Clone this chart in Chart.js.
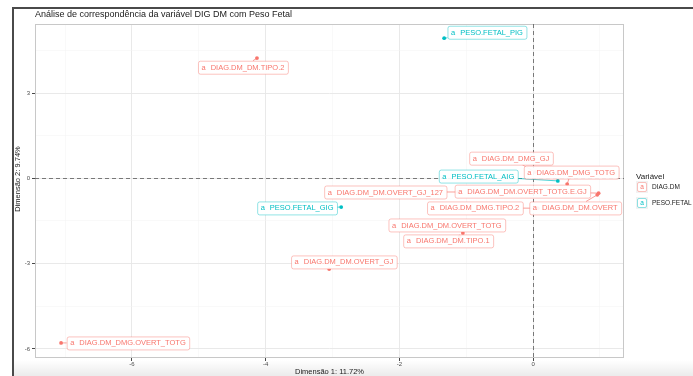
<!DOCTYPE html>
<html>
<head>
<meta charset="utf-8">
<script src="https://cdn.jsdelivr.net/npm/chart.js@4.4.1/dist/chart.umd.min.js"></script>
<style>
  html, body { margin: 0; padding: 0; background: #fff; }
  #wrap { width: 693px; height: 376px; }
</style>
</head>
<body>
<div id="wrap"><canvas id="mca" width="693" height="376"></canvas></div>
<script>
// categories of DIAG.DM and their coordinates on dimensions 1 and 2
const diagLabels = [
  'DIAG.DM_DM.TIPO.2', 'DIAG.DM_DMG_GJ', 'DIAG.DM_DMG_TOTG',
  'DIAG.DM_DM.OVERT_GJ_127', 'DIAG.DM_DM.OVERT_TOTG.E.GJ', 'DIAG.DM_DMG.TIPO.2',
  'DIAG.DM_DM.OVERT', 'DIAG.DM_DM.OVERT_TOTG', 'DIAG.DM_DM.TIPO.1',
  'DIAG.DM_DM.OVERT_GJ', 'DIAG.DM_DMG.OVERT_TOTG'
];
const diagDim1 = [-4.13, 0.03, 0.51, -1.12, 0.98, 0.07, 0.96, -1.05, -1.10, -3.05, -7.06];
const diagDim2 = [4.23, 0.22, -0.20, -0.48, -0.52, -1.05, -0.58, -1.92, -2.05, -3.19, -5.79];

// categories of PESO.FETAL
const pesoLabels = ['PESO.FETAL_PIG', 'PESO.FETAL_AIG', 'PESO.FETAL_GIG'];
const pesoDim1 = [-1.33, 0.37, -2.87];
const pesoDim2 = [4.93, -0.09, -1.01];

// tick values shown on the axes
const xTickLabels = [-6, -4, -2, 0];
const yTickLabels = [3, 0, -3, -6];

// where each repelled label box is centred (axis units)
const labelSpots = {
  'DIAG.DM_DM.TIPO.2': [-4.34, 3.91],
  'DIAG.DM_DMG_GJ': [-0.33, 0.71],
  'DIAG.DM_DMG_TOTG': [0.57, 0.22],
  'DIAG.DM_DM.OVERT_GJ_127': [-2.21, -0.48],
  'DIAG.DM_DM.OVERT_TOTG.E.GJ': [-0.16, -0.45],
  'DIAG.DM_DMG.TIPO.2': [-0.87, -1.04],
  'DIAG.DM_DM.OVERT': [0.63, -1.04],
  'DIAG.DM_DM.OVERT_TOTG': [-1.29, -1.64],
  'DIAG.DM_DM.TIPO.1': [-1.27, -2.20],
  'DIAG.DM_DM.OVERT_GJ': [-2.83, -2.94],
  'DIAG.DM_DMG.OVERT_TOTG': [-6.06, -5.79],
  'PESO.FETAL_PIG': [-0.69, 5.14],
  'PESO.FETAL_AIG': [-0.82, 0.08],
  'PESO.FETAL_GIG': [-3.53, -1.04]
};

const RED = '#F8766D';
const TEAL = '#00BFC4';
const FONT = '"Liberation Sans", Arial, sans-serif';

function toPoints(xs, ys, names) {
  return xs.map((x, i) => ({ x: x, y: ys[i], name: names[i] }));
}

const isMajorX = v => xTickLabels.some(t => Math.abs(t - v) < 1e-6);
const isMajorY = v => yTickLabels.some(t => Math.abs(t - v) < 1e-6);

// frame, panel background, zero lines
const backdrop = {
  id: 'backdrop',
  beforeDraw(chart) {
    const ctx = chart.ctx;
    ctx.save();
    ctx.fillStyle = '#fff';
    ctx.fillRect(0, 0, chart.width, chart.height);
    // soft shade along the bottom edge
    const g = ctx.createLinearGradient(0, 360, 0, 376);
    g.addColorStop(0, 'rgba(0,0,0,0)');
    g.addColorStop(1, 'rgba(0,0,0,0.08)');
    ctx.fillStyle = g;
    ctx.fillRect(12, 360, chart.width - 12, 16);
    // window frame
    ctx.strokeStyle = '#4a4a4a';
    ctx.lineWidth = 2;
    ctx.beginPath();
    ctx.moveTo(13, chart.height);
    ctx.lineTo(13, 8);
    ctx.lineTo(chart.width, 8);
    ctx.stroke();
    ctx.restore();
  },
  beforeDatasetsDraw(chart) {
    const ctx = chart.ctx;
    const a = chart.chartArea;
    const xs = chart.scales.x, ys = chart.scales.y;
    ctx.save();
    ctx.strokeStyle = '#c8c8c8';
    ctx.lineWidth = 1;
    ctx.strokeRect(a.left + 0.5, a.top + 0.5, a.right - a.left - 1, a.bottom - a.top - 1);
    ctx.strokeStyle = '#5a5a5a';
    ctx.lineWidth = 0.8;
    ctx.setLineDash([4, 3]);
    const x0 = Math.round(xs.getPixelForValue(0)) + 0.5;
    const y0 = Math.round(ys.getPixelForValue(0)) + 0.5;
    ctx.beginPath();
    ctx.moveTo(x0, a.top); ctx.lineTo(x0, a.bottom);
    ctx.moveTo(a.left, y0); ctx.lineTo(a.right, y0);
    ctx.stroke();
    ctx.restore();
  }
};

function boxFor(ctx, text, cx, cy) {
  const wa = ctx.measureText('a').width;
  const wt = ctx.measureText(text).width;
  const w = 3 + wa + 5 + wt + 4;
  const h = 13;
  return { l: cx - w / 2, t: cy - h / 2, w: w, h: h, wa: wa };
}

function roundRect(ctx, x, y, w, h, r) {
  ctx.beginPath();
  ctx.moveTo(x + r, y);
  ctx.lineTo(x + w - r, y);
  ctx.arcTo(x + w, y, x + w, y + r, r);
  ctx.lineTo(x + w, y + h - r);
  ctx.arcTo(x + w, y + h, x + w - r, y + h, r);
  ctx.lineTo(x + r, y + h);
  ctx.arcTo(x, y + h, x, y + h - r, r);
  ctx.lineTo(x, y + r);
  ctx.arcTo(x, y, x + r, y, r);
  ctx.closePath();
}

// repelled labels with connector segments
const repelLabels = {
  id: 'repelLabels',
  afterDatasetsDraw(chart) {
    const ctx = chart.ctx;
    const xs = chart.scales.x, ys = chart.scales.y;
    ctx.save();
    ctx.font = '7.5px ' + FONT;
    const items = [];
    chart.data.datasets.forEach(ds => {
      ds.data.forEach(p => {
        const spot = labelSpots[p.name];
        const cx = xs.getPixelForValue(spot[0]);
        const cy = ys.getPixelForValue(spot[1]);
        const px = xs.getPixelForValue(p.x);
        const py = ys.getPixelForValue(p.y);
        items.push({ p: p, color: ds.borderColor, cx, cy, px, py, box: boxFor(ctx, p.name, cx, cy) });
      });
    });
    // segments
    items.forEach(it => {
      const b = it.box;
      const inside = it.px > b.l - 2 && it.px < b.l + b.w + 2 && it.py > b.t - 2 && it.py < b.t + b.h + 2;
      if (inside) return;
      const dx = it.px - it.cx, dy = it.py - it.cy;
      const sx = dx !== 0 ? (b.w / 2) / Math.abs(dx) : Infinity;
      const sy = dy !== 0 ? (b.h / 2) / Math.abs(dy) : Infinity;
      const s = Math.min(sx, sy);
      ctx.strokeStyle = it.color;
      ctx.lineWidth = 0.7;
      ctx.beginPath();
      ctx.moveTo(it.cx + dx * s, it.cy + dy * s);
      ctx.lineTo(it.px, it.py);
      ctx.stroke();
    });
    // boxes and text
    items.forEach(it => {
      const b = it.box;
      roundRect(ctx, b.l + 0.5, b.t + 0.5, b.w, b.h, 2);
      ctx.fillStyle = 'rgba(255,255,255,0.92)';
      ctx.fill();
      ctx.strokeStyle = it.color;
      ctx.globalAlpha = 0.55;
      ctx.lineWidth = 0.8;
      ctx.stroke();
      ctx.globalAlpha = 1;
      ctx.fillStyle = it.color;
      ctx.textBaseline = 'middle';
      ctx.textAlign = 'left';
      ctx.fillText('a', b.l + 3.5, it.cy + 0.5);
      ctx.fillText(it.p.name, b.l + 3.5 + b.wa + 5, it.cy + 0.5);
    });
    ctx.restore();
  }
};

// title, axis titles and legend
const annotations = {
  id: 'annotations',
  afterDraw(chart) {
    const ctx = chart.ctx;
    const a = chart.chartArea;
    ctx.save();
    ctx.fillStyle = '#1a1a1a';
    ctx.textBaseline = 'middle';
    ctx.font = '9px ' + FONT;
    ctx.textAlign = 'left';
    ctx.fillText('Análise de correspondência da variável DIG DM com Peso Fetal', 35, 14.5);

    ctx.font = '7.5px ' + FONT;
    ctx.textAlign = 'center';
    ctx.fillText('Dimensão 1: 11.72%', (a.left + a.right) / 2, 371.5);
    ctx.save();
    ctx.translate(18, 179);
    ctx.rotate(-Math.PI / 2);
    ctx.fillText('Dimensão 2: 9.74%', 0, 0);
    ctx.restore();

    // legend
    ctx.textAlign = 'left';
    ctx.font = '8px ' + FONT;
    ctx.fillText('Variável', 636, 177);
    const entries = [['DIAG.DM', RED, 187], ['PESO.FETAL', TEAL, 203]];
    entries.forEach(([txt, col, y]) => {
      ctx.fillStyle = '#f2f2f2';
      ctx.fillRect(636, y - 6, 12, 12);
      roundRect(ctx, 637.5, y - 4.5, 9, 9, 1.5);
      ctx.fillStyle = '#fff';
      ctx.fill();
      ctx.strokeStyle = col;
      ctx.globalAlpha = 0.55;
      ctx.lineWidth = 0.8;
      ctx.stroke();
      ctx.globalAlpha = 1;
      ctx.fillStyle = col;
      ctx.font = '6.5px ' + FONT;
      ctx.textAlign = 'center';
      ctx.fillText('a', 642, y + 0.5);
      ctx.fillStyle = '#1a1a1a';
      ctx.textAlign = 'left';
      ctx.font = '6.5px ' + FONT;
      ctx.fillText(txt, 652, y + 0.5);
    });
    ctx.restore();
  }
};

const chart = new Chart(document.getElementById('mca'), {
  type: 'scatter',
  data: {
    datasets: [
      {
        label: 'DIAG.DM',
        data: toPoints(diagDim1, diagDim2, diagLabels),
        backgroundColor: RED,
        borderColor: RED,
        pointRadius: 1.9,
        pointBorderWidth: 0
      },
      {
        label: 'PESO.FETAL',
        data: toPoints(pesoDim1, pesoDim2, pesoLabels),
        backgroundColor: TEAL,
        borderColor: TEAL,
        pointRadius: 1.9,
        pointBorderWidth: 0
      }
    ]
  },
  options: {
    responsive: false,
    animation: false,
    devicePixelRatio: 1,
    layout: { padding: { left: 0, top: 24, right: 69, bottom: 0 } },
    plugins: {
      legend: { display: false },
      title: { display: false },
      tooltip: { enabled: false }
    },
    scales: {
      x: {
        type: 'linear',
        min: -7.45,
        max: 1.36,
        afterFit(scale) { scale.height = 18; },
        border: { display: false },
        grid: {
          color: ctx => isMajorX(ctx.tick.value) ? '#e6e6e6' : '#f3f3f3',
          lineWidth: ctx => isMajorX(ctx.tick.value) ? 0.9 : 0.5,
          tickColor: ctx => isMajorX(ctx.tick.value) ? '#333' : 'rgba(0,0,0,0)',
          tickLength: 3
        },
        ticks: {
          stepSize: 1,
          includeBounds: false,
          autoSkip: false,
          maxRotation: 0,
          padding: 0,
          color: '#4d4d4d',
          font: { size: 6, family: FONT },
          callback: v => isMajorX(v) ? String(v) : ''
        }
      },
      y: {
        type: 'linear',
        min: -6.32,
        max: 5.43,
        afterFit(scale) { scale.width = 35; },
        border: { display: false },
        grid: {
          color: ctx => isMajorY(ctx.tick.value) ? '#e6e6e6' : '#f3f3f3',
          lineWidth: ctx => isMajorY(ctx.tick.value) ? 0.9 : 0.5,
          tickColor: ctx => isMajorY(ctx.tick.value) ? '#333' : 'rgba(0,0,0,0)',
          tickLength: 3
        },
        ticks: {
          stepSize: 1.5,
          includeBounds: false,
          autoSkip: false,
          padding: 2,
          color: '#4d4d4d',
          font: { size: 6, family: FONT },
          callback: v => isMajorY(v) ? String(v) : ''
        }
      }
    }
  },
  plugins: [backdrop, repelLabels, annotations]
});
</script>
</body>
</html>
